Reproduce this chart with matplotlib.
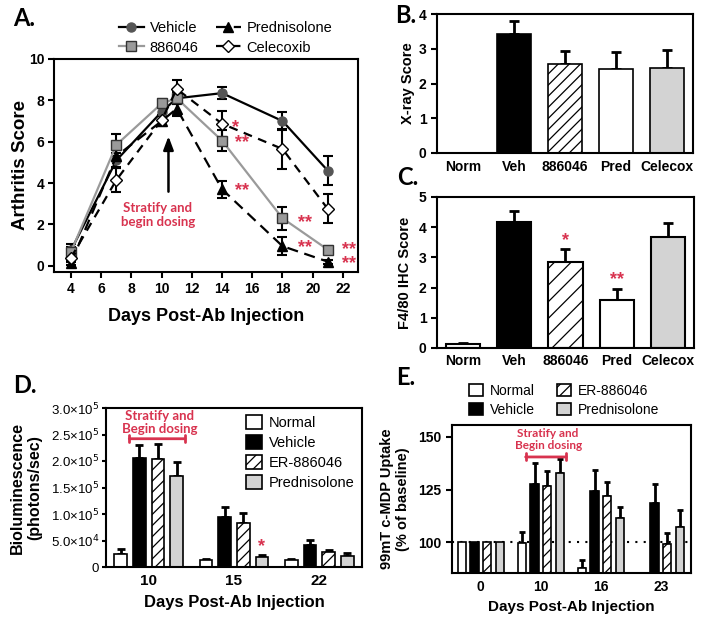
import numpy as np
import matplotlib.pyplot as plt

plt.rcParams['font.family'] = ['Liberation Sans', 'DejaVu Sans']
plt.rcParams['axes.linewidth'] = 1.5
plt.rcParams['hatch.linewidth'] = 0.9

RED = '#d8334f'
LIGHT = '#d3d3d3'
CALIBRI = ['Lato', 'DejaVu Sans']

# ---------- A. arthritis score ----------
days_a = [4, 7, 10, 11, 14, 18, 21]
vehicle_a = [0.75, 5.1, 7.45, 8.1, 8.35, 7.0, 4.6]
vehicle_a_err = [0.3, 0.35, 0.2, 0.3, 0.28, 0.45, 0.7]
er886046_a = [0.68, 5.85, 7.85, 8.1, 6.05, 2.3, 0.78]
er886046_a_err = [0.25, 0.53, 0.2, 0.3, 0.52, 0.56, 0.18]
pred_a = [0.15, 5.3, 7.0, 7.6, 3.7, 0.95, 0.2]
pred_a_err = [0.12, 0.5, 0.25, 0.35, 0.4, 0.45, 0.1]
celecoxib_a = [0.4, 4.15, 7.05, 8.55, 6.87, 5.65, 2.75]
celecoxib_a_err = [0.2, 0.6, 0.25, 0.45, 0.63, 0.95, 0.7]

# significance marks (day, score, text)
stars_a = [(14.9, 6.7, '*'), (15.3, 5.95, '**'), (15.3, 3.65, '**'),
           (19.5, 2.1, '**'), (19.5, 0.9, '**'), (22.4, 0.76, '**'), (22.4, 0.1, '**')]

# ---------- B. x-ray / C. F4/80 ----------
cats_bc = ['Norm', 'Veh', '886046', 'Pred', 'Celecox']
xray = [0, 3.43, 2.55, 2.43, 2.45]
xray_err = [0, 0.38, 0.38, 0.47, 0.5]
f480 = [0.12, 4.18, 2.85, 1.6, 3.67]
f480_err = [0.06, 0.35, 0.42, 0.37, 0.47]
f480_stars = ['', '', '*', '**', '']

# ---------- D. bioluminescence ----------
groups = ['Normal', 'Vehicle', 'ER-886046', 'Prednisolone']
days_d = ['10', '15', '22']
normal_d = [2.47e4, 1.4e4, 1.4e4]
normal_d_err = [0.85e4, 0.15e4, 0.2e4]
vehicle_d = [2.05e5, 0.95e5, 4.2e4]
vehicle_d_err = [0.25e5, 0.18e5, 0.9e4]
er_d = [2.04e5, 0.835e5, 2.85e4]
er_d_err = [0.28e5, 0.18e5, 0.35e4]
pred_d = [1.71e5, 1.9e4, 2.15e4]
pred_d_err = [0.28e5, 0.4e4, 0.5e4]

# ---------- E. 99mTc-MDP uptake ----------
days_e = ['0', '10', '16', '23']
normal_e = [100, 99.5, 87.5, np.nan]
normal_e_err = [0, 5.1, 4.0, 0]
vehicle_e = [100, 127.5, 124.4, 118.5]
vehicle_e_err = [0, 10.3, 10.0, 9.0]
er_e = [100, 126.9, 122.0, 99.2]
er_e_err = [0, 7.1, 6.8, 5.0]
pred_e = [100, 132.8, 111.4, 107.1]
pred_e_err = [0, 6.5, 5.5, 8.2]

fig = plt.figure(figsize=(7.2, 6.17), dpi=100)


def add_axes_px(left, top, right, bottom):
    return fig.add_axes([left / 720, 1 - bottom / 617, (right - left) / 720, (bottom - top) / 617])


def up_errors(ax, x, y, err, capsize):
    x, y, err = np.asarray(x, float), np.asarray(y, float), np.asarray(err, float)
    keep = np.isfinite(y) & (err > 0)
    ax.errorbar(x[keep], y[keep], yerr=[np.zeros(keep.sum()), err[keep]], fmt='none',
                ecolor='black', elinewidth=2, capsize=capsize, capthick=2, zorder=1)


def bold_ticks(ax, size):
    for lab in ax.get_xticklabels() + ax.get_yticklabels():
        lab.set_fontweight('bold')
        lab.set_fontsize(size)


# ============ A ============
ax = add_axes_px(54, 59, 358, 272)
series_a = [
    ('Vehicle', vehicle_a, vehicle_a_err, dict(color='black', ls='-', marker='o', mfc='#555555', mec='#555555', ms=6.5)),
    ('886046', er886046_a, er886046_a_err, dict(color='#9a9a9a', ls='-', marker='s', mfc='#9a9a9a', mec='#333333', ms=6.5)),
    ('Prednisolone', pred_a, pred_a_err, dict(color='black', ls=(0, (5, 3)), marker='^', mfc='black', mec='black', ms=6.5)),
    ('Celecoxib', celecoxib_a, celecoxib_a_err, dict(color='black', ls=(0, (4, 3)), marker='D', mfc='white', mec='black', ms=6)),
]
for name, vals, errs, style in series_a:
    ax.errorbar(days_a, vals, yerr=errs, ecolor='black', elinewidth=1.5, capsize=3.5,
                capthick=1.5, lw=1.6, **style)
    # proxy line for the legend (no error bar in the key)
    ax.plot([], [], lw=1.6, label=name, **style)
for x, y, s in stars_a:
    ax.text(x, y, s, color=RED, fontsize=13, fontweight='bold', ha='center', va='center')
ax.annotate('', xy=(10.45, 6.4), xytext=(10.45, 3.45),
            arrowprops=dict(arrowstyle='-|>,head_length=0.8,head_width=0.3', color='black', lw=1.8))
ax.text(9.75, 2.45, 'Stratify and\nbegin dosing', color=RED, fontsize=9.5, fontweight='bold',
        family=CALIBRI, ha='center', va='center', linespacing=1.2)
ax.set_xlim(2.87, 23)
ax.set_ylim(-0.3, 10)
ax.set_xticks(range(4, 23, 2))
ax.set_yticks(range(0, 11, 2))
ax.tick_params(width=1.5, length=4, pad=3)
bold_ticks(ax, 10)
ax.set_xlabel('Days Post-Ab Injection', fontsize=13, fontweight='bold', labelpad=9)
ax.set_ylabel('Arthritis Score', fontsize=13.5, fontweight='bold', labelpad=0)
ax.legend(ncol=2, loc='lower center', bbox_to_anchor=(0.565, 0.98), frameon=False,
          fontsize=10.5, handlelength=1.7, handletextpad=0.4, columnspacing=1.2,
          labelspacing=0.35, borderpad=0.1)

# ============ B and C ============
fills_bc = ['white', 'black', 'white', 'white', LIGHT]
hatch_b = [None, None, '///', None, None]
hatch_c = [None, None, '//', None, None]
xpos = np.arange(len(cats_bc))

ax = add_axes_px(437, 14, 693, 153)
shown = [i for i, v in enumerate(xray) if v > 0]
ax.bar(xpos[shown], [xray[i] for i in shown], width=0.67, color=[fills_bc[i] for i in shown],
       edgecolor='black', linewidth=1.2, hatch=[hatch_b[i] for i in shown], zorder=2)
up_errors(ax, xpos, xray, xray_err, 3.6)
ax.set_xlim(-0.51, 4.51)
ax.set_ylim(0, 4)
ax.set_yticks(range(0, 5))
ax.set_xticks(xpos)
ax.set_xticklabels(cats_bc)
ax.tick_params(axis='y', width=1.5, length=4)
ax.tick_params(axis='x', length=0, pad=5)
bold_ticks(ax, 10)
ax.set_ylabel('X-ray Score', fontsize=10.5, fontweight='bold', labelpad=3)

ax = add_axes_px(437, 197, 694, 348)
ax.bar(xpos, f480, width=0.67, color=fills_bc, edgecolor='black', linewidth=1.5,
       hatch=hatch_c, zorder=2)
up_errors(ax, xpos, f480, f480_err, 3.6)
for i, s in enumerate(f480_stars):
    if s:
        ax.text(xpos[i], f480[i] + f480_err[i] + 0.3, s, color=RED, fontsize=13,
                fontweight='bold', ha='center', va='center')
ax.set_xlim(-0.51, 4.51)
ax.set_ylim(0, 5)
ax.set_yticks(range(0, 6))
ax.set_xticks(xpos)
ax.set_xticklabels(cats_bc)
ax.tick_params(axis='y', width=1.5, length=4)
ax.tick_params(axis='x', length=0, pad=4)
bold_ticks(ax, 10)
ax.set_ylabel('F4/80 IHC Score', fontsize=10.5, fontweight='bold', labelpad=5)

# ============ D ============
ax = add_axes_px(106, 408, 362, 567)
fills_g = ['white', 'black', 'white', LIGHT]
hatch_g = [None, None, '///', None]
vals_d = [normal_d, vehicle_d, er_d, pred_d]
errs_d = [normal_d_err, vehicle_d_err, er_d_err, pred_d_err]
gx = np.arange(len(days_d))
for k in range(4):
    xk = gx + (k - 1.5) * 0.218
    ax.bar(xk, vals_d[k], width=0.147, color=fills_g[k], edgecolor='black', linewidth=1.2,
           hatch=hatch_g[k], label=groups[k], zorder=2)
    up_errors(ax, xk, vals_d[k], errs_d[k], 3)
ax.text(1 + 1.5 * 0.218, pred_d[1] + pred_d_err[1] + 1.6e4, '*', color=RED, fontsize=13,
        fontweight='bold', ha='center', va='center')
ax.annotate('', xy=(-0.26, 2.42e5), xytext=(0.46, 2.42e5),
            arrowprops=dict(arrowstyle='|-|,widthA=0.25,widthB=0.25', color=RED, lw=2))
ax.text(0.13, 2.72e5, 'Stratify and\nBegin dosing', color=RED, fontsize=9.5, fontweight='bold',
        family=CALIBRI, ha='center', va='center', linespacing=1.1)
ax.set_xlim(-0.5, 2.5)
ax.set_ylim(0, 3.0e5)
ax.set_xticks(gx)
ax.set_xticklabels(days_d)
yt = np.arange(0, 3.01e5, 0.5e5)
ax.set_yticks(yt)
ax.set_yticklabels(['0', '5.0×10$^4$', '1.0×10$^5$', '1.5×10$^5$', '2.0×10$^5$',
                    '2.5×10$^5$', '3.0×10$^5$'], fontsize=9.5)
ax.tick_params(axis='y', width=1.5, length=3, pad=2)
ax.tick_params(axis='x', length=0, pad=5)
for lab in ax.get_xticklabels():
    lab.set_fontweight('bold')
    lab.set_fontsize(11)
ax.set_xlabel('Days Post-Ab Injection', fontsize=12, fontweight='bold', labelpad=5)
ax.set_ylabel('Bioluminescence\n(photons/sec)', fontsize=11.5, fontweight='bold', labelpad=6)
ax.legend(loc='upper right', frameon=False, fontsize=10.5, handlelength=1.1, handleheight=1.1,
          handletextpad=0.5, labelspacing=0.35, borderaxespad=0.1)

# ============ E ============
ax = add_axes_px(452, 425, 691, 573)
vals_e = [normal_e, vehicle_e, er_e, pred_e]
errs_e = [normal_e_err, vehicle_e_err, er_e_err, pred_e_err]
ex = np.arange(len(days_e))
ax.axhline(100, color='black', ls=(0, (1, 3)), lw=1.5, zorder=0)
for k in range(4):
    xk = ex + (k - 1.5) * 0.21
    ax.bar(xk, vals_e[k], width=0.14, color=fills_g[k], edgecolor='black', linewidth=1.2,
           hatch=hatch_g[k], label=groups[k], zorder=2)
    up_errors(ax, xk, vals_e[k], errs_e[k], 2.5)
ax.annotate('', xy=(0.7, 140.5), xytext=(1.47, 140.5),
            arrowprops=dict(arrowstyle='|-|,widthA=0.25,widthB=0.25', color=RED, lw=2))
ax.text(1.12, 148.7, 'Stratify and\nBegin dosing', color=RED, fontsize=8.5, fontweight='bold',
        family=CALIBRI, ha='center', va='center', linespacing=1.15)
ax.set_xlim(-0.48, 3.5)
ax.set_ylim(85.3, 155.7)
ax.set_yticks([100, 125, 150])
ax.set_xticks(ex)
ax.set_xticklabels(days_e)
ax.tick_params(axis='y', width=1.5, length=4)
ax.tick_params(axis='x', length=0, pad=5)
bold_ticks(ax, 10)
ax.set_xlabel('Days Post-Ab Injection', fontsize=11, fontweight='bold', labelpad=4)
ax.set_ylabel('99mT c-MDP Uptake\n(% of baseline)', fontsize=10.5, fontweight='bold', labelpad=6)
ax.legend(ncol=2, loc='lower center', bbox_to_anchor=(0.47, 1.0), frameon=False, fontsize=10,
          handlelength=1.0, handleheight=1.0, handletextpad=0.5, columnspacing=1.6,
          labelspacing=0.35, borderpad=0.1)

# panel letters
for letter, x, y in [('A.', 13, 26), ('B.', 395, 23), ('C.', 397, 185), ('D.', 13, 393), ('E.', 396, 385)]:
    fig.text(x / 720, 1 - y / 617, letter, fontsize=17, fontweight='bold', family=CALIBRI,
             va='baseline', ha='left')

fig.savefig('out.png', dpi=100)
